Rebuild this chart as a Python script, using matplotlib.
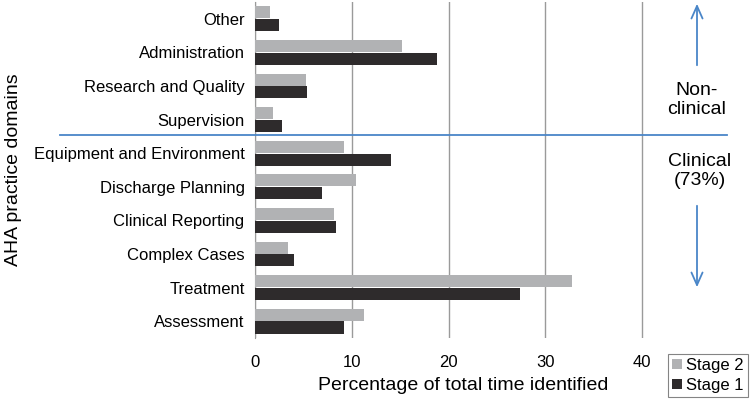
import numpy as np
import matplotlib.pyplot as plt
from matplotlib.patches import FancyArrowPatch

plt.rcParams['font.family'] = ['Liberation Sans', 'DejaVu Sans']

domains = ["Other", "Administration", "Research and Quality", "Supervision",
           "Equipment and Environment", "Discharge Planning", "Clinical Reporting",
           "Complex Cases", "Treatment", "Assessment"]
stage2 = [1.5, 15.2, 5.3, 1.9, 9.2, 10.4, 8.2, 3.4, 32.7, 11.3]
stage1 = [2.5, 18.8, 5.4, 2.8, 14.1, 6.9, 8.4, 4.0, 27.4, 9.2]
xticks = [0, 10, 20, 30, 40]

LIGHT = "#b1b2b4"
DARK = "#2e2b2c"
BLUE = "#4a86c8"

fig = plt.figure(figsize=(7.5, 3.99), dpi=100)
ax = fig.add_axes([0.34, 0.153, 0.555, 0.842])

y = np.arange(len(domains))
h = 0.36
ax.barh(y - 0.19, stage2, height=h, color=LIGHT, label="Stage 2", zorder=3)
ax.barh(y + 0.19, stage1, height=h, color=DARK, label="Stage 1", zorder=3)

ax.set_ylim(len(domains) - 0.5, -0.5)
ax.set_xlim(0, 43)
ax.set_yticks(y)
ax.set_yticklabels(domains, fontsize=12)
ax.set_xticks(xticks)
ax.set_xticklabels([str(t) for t in xticks], fontsize=12)
ax.tick_params(length=0, pad=7.5)
ax.tick_params(axis='x', pad=12)
ax.xaxis.grid(True, color="#9a9a9a", linewidth=1.0, zorder=0)
for s in ["top", "right", "bottom"]:
    ax.spines[s].set_visible(False)
ax.spines["left"].set_color("#9a9a9a")

ax.set_xlabel("Percentage of total time identified", fontsize=14, labelpad=5)
fig.text(0.018, 0.575, "AHA practice domains", rotation=90, fontsize=14,
         ha="center", va="center")

# divider between non-clinical and clinical domains
fig.add_artist(plt.Line2D([60 / 750, 727 / 750], [1 - 135 / 399] * 2,
                          color=BLUE, linewidth=1.3))
fig.text(697 / 750, 1 - 100 / 399, "Non-\nclinical", fontsize=14,
         ha="center", va="center", linespacing=1.2)
fig.text(700 / 750, 1 - 171 / 399, "Clinical\n(73%)", fontsize=14,
         ha="center", va="center", linespacing=1.2)
fig.add_artist(FancyArrowPatch((697 / 750, 1 - 68 / 399), (697 / 750, 1 - 1 / 399),
                               transform=fig.transFigure, arrowstyle="->,head_width=4,head_length=9",
                               color=BLUE, linewidth=1.3))
fig.add_artist(FancyArrowPatch((697 / 750, 1 - 203 / 399), (697 / 750, 1 - 290 / 399),
                               transform=fig.transFigure, arrowstyle="->,head_width=4,head_length=9",
                               color=BLUE, linewidth=1.3))

leg = fig.legend(loc="lower right", bbox_to_anchor=(0.997, 0.005), fontsize=12,
                 frameon=True, fancybox=False, edgecolor="#666666", handlelength=0.6,
                 handleheight=0.6, handletextpad=0.25, borderpad=0.25, labelspacing=0.3,
                 borderaxespad=0)
leg.get_frame().set_linewidth(0.8)

fig.savefig("out.png", dpi=100)
